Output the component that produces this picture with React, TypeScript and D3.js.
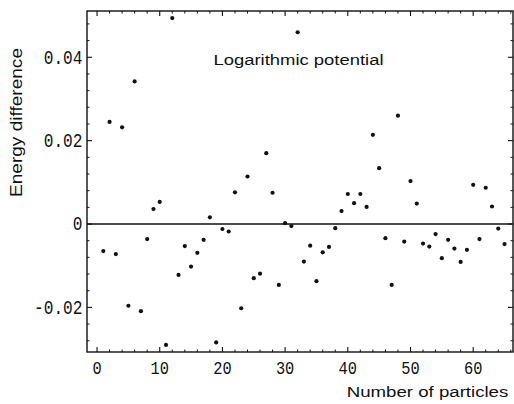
import { useMemo } from "react";
import * as d3 from "d3";

// particle counts and energy differences
const particles = d3.range(1, 66);
const energyDiff = [
  -0.0065, 0.0245, -0.0072, 0.0232, -0.0196, 0.0342, -0.0209, -0.0036, 0.0036, 0.0053,
  -0.029, 0.0494, -0.0122, -0.0053, -0.0102, -0.0069, -0.0038, 0.0016, -0.0284, -0.0012,
  -0.0018, 0.0076, -0.0202, 0.0114, -0.013, -0.0119, 0.017, 0.0075, -0.0146, 0.0002,
  -0.0005, 0.046, -0.009, -0.0052, -0.0137, -0.0068, -0.0055, -0.001, 0.0031, 0.0072,
  0.005, 0.0072, 0.0041, 0.0214, 0.0134, -0.0034, -0.0146, 0.026, -0.0042, 0.0103,
  0.0049, -0.0047, -0.0054, -0.0024, -0.0082, -0.0038, -0.0059, -0.0091, -0.0062, 0.0094,
  -0.0036, 0.0087, 0.0042, -0.0011, -0.0048,
];
const xMajor = [0, 10, 20, 30, 40, 50, 60];
const yMajor = [-0.02, 0, 0.02, 0.04];
const yLabels = ["-0.02", "0", "0.02", "0.04"];

const W = 514;
const H = 404;
const frame = { left: 87, right: 513, top: 11, bottom: 352 };

export default function App() {
  const x = useMemo(() => d3.scaleLinear().domain([-1.6, 66.35]).range([frame.left, frame.right]), []);
  const y = useMemo(() => d3.scaleLinear().domain([-0.0307, 0.0511]).range([frame.bottom, frame.top]), []);

  const xMinor = d3.range(-0, 67, 2).filter((v) => v % 10 !== 0);
  const yMinor = d3.range(-0.028, 0.05, 0.004).filter((v) => Math.abs(v / 0.02 - Math.round(v / 0.02)) > 0.01);

  const ink = "#111";
  const mono = "'Liberation Mono', 'Courier New', monospace";
  const sans = "'Liberation Sans', Arial, Helvetica, sans-serif";

  return (
    <svg
      width={W}
      height={H}
      style={{ position: "absolute", left: 0, top: 0, background: "#fff" }}
    >
      {/* frame */}
      <rect
        x={frame.left}
        y={frame.top}
        width={frame.right - frame.left}
        height={frame.bottom - frame.top}
        fill="none"
        stroke={ink}
        strokeWidth={1.4}
      />
      {/* zero axis */}
      <line x1={frame.left} x2={frame.right} y1={y(0)} y2={y(0)} stroke={ink} strokeWidth={1.4} />

      {/* x ticks, bottom and top, pointing in */}
      {xMajor.map((v) => (
        <g key={`xM${v}`} stroke={ink} strokeWidth={1.1}>
          <line x1={x(v)} x2={x(v)} y1={frame.bottom} y2={frame.bottom - 5} />
          <line x1={x(v)} x2={x(v)} y1={frame.top} y2={frame.top + 5} />
        </g>
      ))}
      {xMinor.map((v) => (
        <g key={`xm${v}`} stroke={ink} strokeWidth={1}>
          <line x1={x(v)} x2={x(v)} y1={frame.bottom} y2={frame.bottom - 2.5} />
          <line x1={x(v)} x2={x(v)} y1={frame.top} y2={frame.top + 2.5} />
        </g>
      ))}
      {/* y ticks, left and right */}
      {yMajor.map((v) => (
        <g key={`yM${v}`} stroke={ink} strokeWidth={1.1}>
          <line x1={frame.left} x2={frame.left + 5} y1={y(v)} y2={y(v)} />
          <line x1={frame.right} x2={frame.right - 5} y1={y(v)} y2={y(v)} />
        </g>
      ))}
      {yMinor.map((v) => (
        <g key={`ym${v.toFixed(3)}`} stroke={ink} strokeWidth={1}>
          <line x1={frame.left} x2={frame.left + 2.5} y1={y(v)} y2={y(v)} />
          <line x1={frame.right} x2={frame.right - 2.5} y1={y(v)} y2={y(v)} />
        </g>
      ))}

      {/* tick labels */}
      {xMajor.map((v) => {
        const s = String(v);
        return (
          <text
            key={`xl${v}`}
            x={x(v) - (s.length * 9.2) / 2}
            y={373.5}
            fontFamily={mono}
            fontSize={19}
            fill={ink}
            textLength={s.length * 9.2}
            lengthAdjust="spacingAndGlyphs"
          >
            {s}
          </text>
        );
      })}
      {yMajor.map((v, i) => {
        const s = yLabels[i];
        return (
          <text
            key={`yl${v}`}
            x={82.5 - s.length * 9.7}
            y={y(v) + 6.3}
            fontFamily={mono}
            fontSize={20}
            fill={ink}
            textLength={s.length * 9.7}
            lengthAdjust="spacingAndGlyphs"
          >
            {s}
          </text>
        );
      })}

      {/* points */}
      {particles.map((n, i) => (
        <circle key={n} cx={x(n)} cy={y(energyDiff[i])} r={2.1} fill={ink} />
      ))}

      {/* labels */}
      <text
        x={213.5}
        y={65}
        fontFamily={sans}
        fontSize={15.5}
        fill={ink}
        textLength={170}
        lengthAdjust="spacingAndGlyphs"
      >
        Logarithmic potential
      </text>
      <text
        x={346.8}
        y={396.6}
        fontFamily={sans}
        fontSize={15.5}
        fill={ink}
        textLength={161.5}
        lengthAdjust="spacingAndGlyphs"
      >
        Number of particles
      </text>
      <text
        transform="translate(22,122.5) rotate(-90)"
        textAnchor="middle"
        fontFamily={sans}
        fontSize={16}
        fill={ink}
        textLength={149}
        lengthAdjust="spacingAndGlyphs"
      >
        Energy difference
      </text>
    </svg>
  );
}
